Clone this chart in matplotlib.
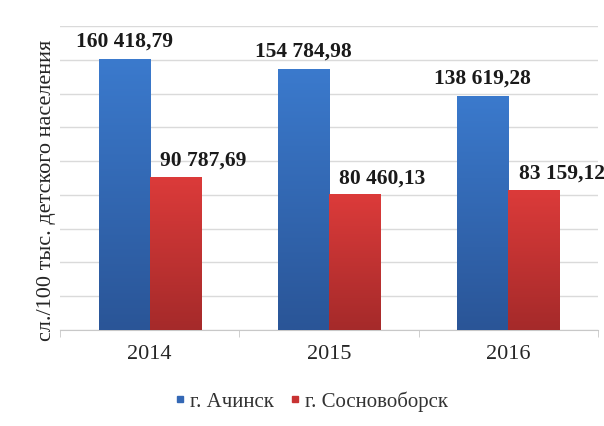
import matplotlib
matplotlib.use("Agg")
import numpy as np
import matplotlib.pyplot as plt
from matplotlib.lines import Line2D
from matplotlib.colors import LinearSegmentedColormap

plt.rcParams['font.family'] = ['Liberation Serif', 'DejaVu Serif']

years = ['2014', '2015', '2016']
achinsk = [160418.79, 154784.98, 138619.28]
sosnovoborsk = [90787.69, 80460.13, 83159.12]
series_names = ['г. Ачинск', 'г. Сосновоборск']

fig = plt.figure(figsize=(6.04, 4.27), dpi=100)
ax = fig.add_axes([60 / 604, 96 / 427, 538 / 604, 304 / 427])

x = np.arange(len(years))
w = 0.285

blue_cm = LinearSegmentedColormap.from_list('b', ['#3b7acd', '#2a5597'])
red_cm = LinearSegmentedColormap.from_list('r', ['#dc3b3a', '#a52a2a'])

bars1 = ax.bar(x - w / 2, achinsk, w, color='#3468b5', zorder=2)
bars2 = ax.bar(x + w / 2, sosnovoborsk, w, color='#c83333', zorder=2)

# vertical gradient, light at the top, clipped to each bar
grad = np.linspace(0, 1, 256).reshape(-1, 1)
for bars, cm in ((bars1, blue_cm), (bars2, red_cm)):
    for b in bars:
        x0, y0 = b.get_x(), b.get_y()
        im = ax.imshow(grad, cmap=cm, aspect='auto', zorder=3, origin='upper',
                       extent=[x0, x0 + b.get_width(), y0, y0 + b.get_height()])
        im.set_clip_path(b)


def fmt(v):
    return f"{v:,.2f}".replace(",", " ").replace(".", ",")


for b, v in zip(bars1, achinsk):
    ax.annotate(fmt(v), (b.get_x() + b.get_width() / 2, v), xytext=(0, 6),
                textcoords='offset points', ha='center', va='bottom',
                fontsize=15.5, fontweight='bold', color='#1a1a1a', zorder=5)
for b, v in zip(bars2, sosnovoborsk):
    ax.annotate(fmt(v), (b.get_x() + b.get_width() / 2, v), xytext=(20, 5),
                textcoords='offset points', ha='center', va='bottom',
                fontsize=15.5, fontweight='bold', color='#1a1a1a', zorder=5)

ax.set_xlim(-0.5, 2.5)
ax.set_ylim(0, 180000)
ax.set_yticks(np.arange(0, 180001, 20000))
ax.yaxis.grid(True, color='#dadada', linewidth=1, zorder=0)
ax.tick_params(axis='y', left=False, labelleft=False)

ax.set_xticks(x)
ax.set_xticklabels(years, fontsize=16, color='#262626')
ax.set_xticks([-0.5, 0.5, 1.5, 2.5], minor=True)
ax.tick_params(axis='x', which='major', length=0, pad=10)
ax.tick_params(axis='x', which='minor', length=5, color='#c8c8c8')

for s in ('top', 'right', 'left'):
    ax.spines[s].set_visible(False)
ax.spines['bottom'].set_color('#c8c8c8')

fig.text(47 / 604, 1 - 190 / 427, 'сл./100 тыс. детского населения',
         rotation=90, ha='center', va='center', fontsize=16, color='#262626')

handles = [Line2D([], [], marker='s', linestyle='none', markersize=5, color='#3468b5'),
           Line2D([], [], marker='s', linestyle='none', markersize=5, color='#c83333')]
fig.legend(handles, series_names, loc='center', bbox_to_anchor=(310 / 604, 1 - 402 / 427),
           ncol=2, frameon=False, fontsize=15, handletextpad=0.1, columnspacing=0.6,
           handlelength=0.8, labelcolor='#333333')

fig.savefig('out.png', dpi=100)
